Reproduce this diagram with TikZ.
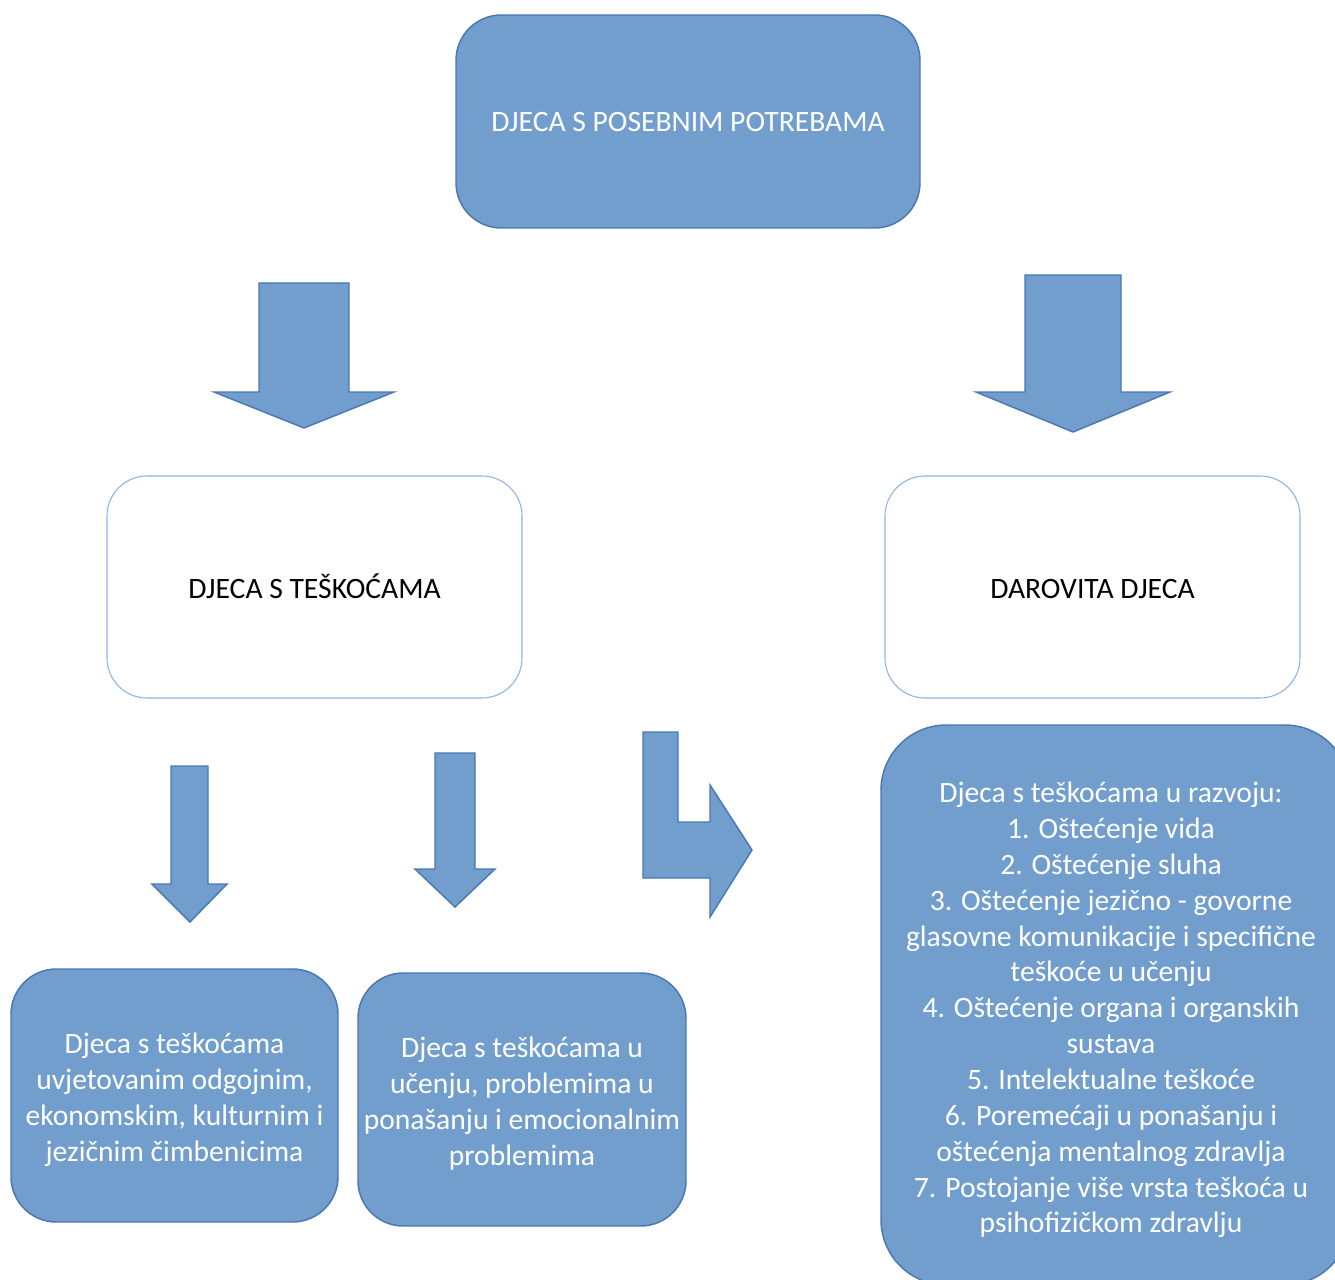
\documentclass[tikz,border=0pt]{standalone}
\usepackage{fontspec}
\setmainfont{Carlito}
\definecolor{bfill}{RGB}{114,158,206}
\definecolor{bline}{RGB}{74,120,178}
\definecolor{wline}{RGB}{142,180,227}
\begin{document}
\begin{tikzpicture}[x=0.75pt,y=-0.75pt,
  txt/.style={font=\fontsize{22.2}{26.9}\selectfont, align=center, inner sep=0pt},
  bluebox/.style={txt, draw=bline, line width=1.1pt, fill=bfill, text=white, rounded corners=#1},
  bluebox/.default=34pt,
  whitebox/.style={txt, draw=wline, line width=0.8pt, fill=white, text=black, rounded corners=30pt},
  blockarrow/.style={draw=bline, line width=1.1pt, fill=bfill, line join=miter}]
\useasboundingbox (0,0) rectangle (1335,1280);
\clip (0,0) rectangle (1335,1280);

\node[bluebox, minimum width=348pt, minimum height=159.75pt] (top) at (688,121.5) {};
\node[txt, text=white, anchor=base] (toptxt) at (688,132) {DJECA S POSEBNIM POTREBAMA};

\node[whitebox, minimum width=311.25pt, minimum height=166.5pt] (tesk) at (314.5,587) {};
\node[txt, anchor=base] (tesktxt) at (314.5,598) {DJECA S TEŠKOĆAMA};
\node[whitebox, minimum width=311.25pt, minimum height=166.5pt] (darov) at (1092.5,587) {};
\node[txt, anchor=base] (darovtxt) at (1092.5,598) {DAROVITA DJECA};

% block arrows
\draw[blockarrow] (259,283) -- (349,283) -- (349,392) -- (394,392) -- (304,428) -- (214,392) -- (259,392) -- cycle;
\draw[blockarrow] (1025,275) -- (1121,275) -- (1121,392) -- (1170,392) -- (1073,432) -- (976,392) -- (1025,392) -- cycle;
\draw[blockarrow] (171,766) -- (208,766) -- (208,884) -- (227,884) -- (190,922) -- (152,884) -- (171,884) -- cycle;
\draw[blockarrow] (435,753) -- (475,753) -- (475,869) -- (495,869) -- (455,907) -- (415,869) -- (435,869) -- cycle;
\draw[blockarrow] (643,732) -- (678,732) -- (678,822) -- (710,822) -- (710,785) -- (752,850) -- (710,917) -- (710,878) -- (643,878) -- cycle;

\node[bluebox=34pt, minimum width=245.25pt, minimum height=189.75pt] (bl) at (174.5,1095.5) {};
\node[txt, text=white] (bltxt) at (174.5,1099.5)
  {Djeca s teškoćama\\uvjetovanim odgojnim,\\ekonomskim, kulturnim i\\jezičnim čimbenicima};
\node[bluebox=34pt, minimum width=246pt, minimum height=189.75pt] (bm) at (522,1099.5) {};
\node[txt, text=white] (bmtxt) at (522,1103.5)
  {Djeca s teškoćama u\\učenju, problemima u\\ponašanju i emocionalnim\\problemima};

\node[bluebox=49pt, minimum width=351.75pt, minimum height=420pt] (big) at (1115.5,1005) {};
\node[txt, text=white] (bigtxt) at (1111,1010)
  {Djeca s teškoćama u razvoju:\\
   1. Oštećenje vida\\
   2. Oštećenje sluha\\
   3. Oštećenje jezično - govorne\\
   glasovne komunikacije i specifične\\
   teškoće u učenju\\
   4. Oštećenje organa i organskih\\
   sustava\\
   5. Intelektualne teškoće\\
   6. Poremećaji u ponašanju i\\
   oštećenja mentalnog zdravlja\\
   7. Postojanje više vrsta teškoća u\\
   psihofizičkom zdravlju};
\end{tikzpicture}
\end{document}
